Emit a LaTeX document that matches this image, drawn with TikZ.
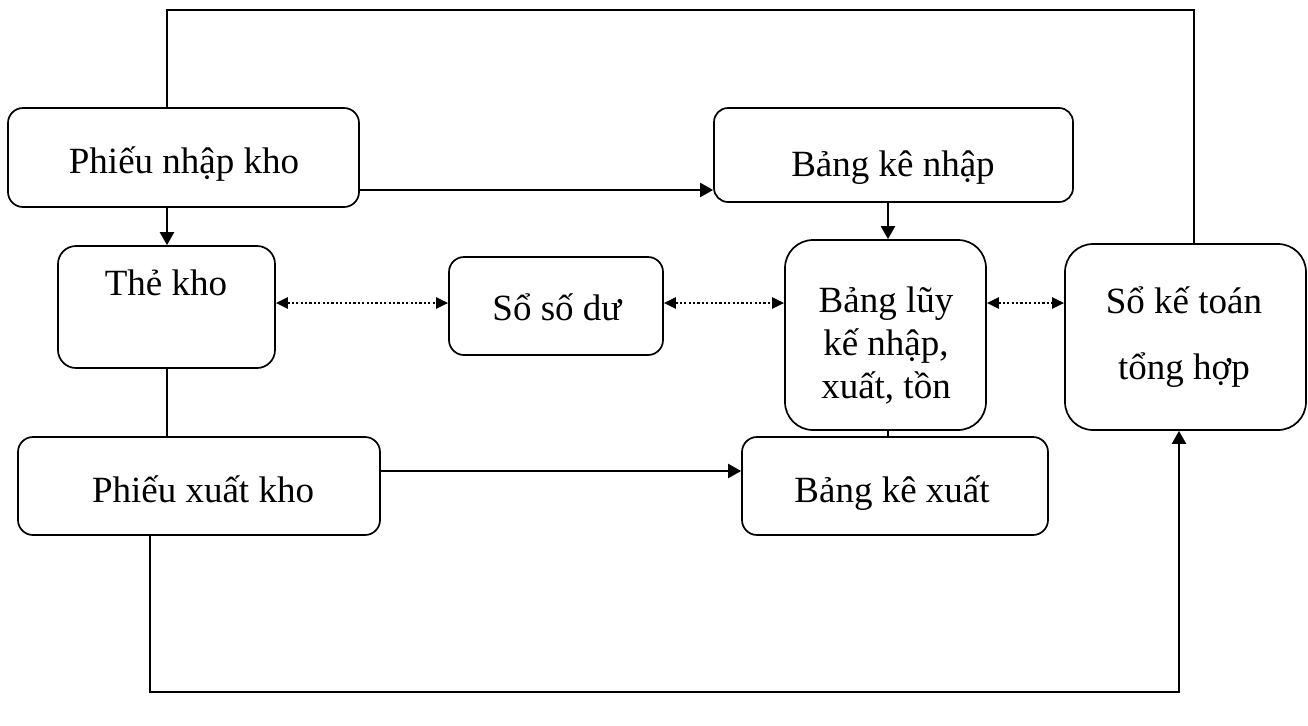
\documentclass[tikz,border=0pt]{standalone}
\usepackage{fontspec}
\setmainfont{Liberation Serif}
\usetikzlibrary{fit,arrows.meta}

\begin{document}
\begin{tikzpicture}[
  x=0.5pt, y=-0.5pt,
  box/.style={draw, line width=0.85pt, inner sep=0pt},
  lbl/.style={font=\fontsize{18.5}{21.5}\selectfont, inner sep=0pt, align=center},
  conn/.style={line width=1.1pt},
  arr/.style={conn, -{Triangle[length=6.5pt,width=7pt]}},
  dotarr/.style={line width=1.1pt, dash pattern=on 1.1pt off 1.1pt,
                 {Triangle[length=6pt,width=5.5pt]}-{Triangle[length=6pt,width=5.5pt]}}
]
\useasboundingbox (0,0) rectangle (1308,725);

% boxes
\node[box, rounded corners=7.5pt, fit={(8,108) (359,207)}]    (pnk) {};
\node[box, rounded corners=7pt,   fit={(714,108) (1073,202)}] (bkn) {};
\node[box, rounded corners=9pt,   fit={(58,246) (275,368)}]   (tk)  {};
\node[box, rounded corners=7.5pt, fit={(449,257) (663,355)}]  (ssd) {};
\node[box, rounded corners=14pt,  fit={(785,240) (986,430)}]  (blk) {};
\node[box, rounded corners=14pt,  fit={(1065,244) (1306,430)}](skt) {};
\node[box, rounded corners=7.5pt, fit={(18,437) (380,535)}]   (pxk) {};
\node[box, rounded corners=7.5pt, fit={(742,437) (1048,535)}] (bkx) {};

% labels (multi-line labels sit on the baseline of their last line)
\node[lbl, anchor=base] (pnk-t) at (184,173) {Phiếu nhập kho};
\node[lbl, anchor=base] (bkn-t) at (893,176) {Bảng kê nhập};
\node[lbl, anchor=base] (tk-t)  at (166,295) {Thẻ kho};
\node[lbl, anchor=base] (ssd-t) at (557,320) {Sổ số dư};
\node[lbl, anchor=base] (blk-t) at (886,398) {Bảng lũy\\kế nhập,\\xuất, tồn};
\node[lbl, anchor=base] (skt-t) at (1184,379) {Sổ kế toán\\[11.5pt]tổng hợp};
\node[lbl, anchor=base] (pxk-t) at (203,502) {Phiếu xuất kho};
\node[lbl, anchor=base] (bkx-t) at (892,502) {Bảng kê xuất};

% routing points
\coordinate (topL) at (167,10);
\coordinate (topR) at (1194,10);
\coordinate (botL) at (150,692);
\coordinate (botR) at (1179,692);
\coordinate (rowA) at (0,190);
\coordinate (rowB) at (0,303);
\coordinate (rowC) at (0,471);
\coordinate (colB) at (888,0);

% connectors
\draw[conn] (topL |- pnk.north) -- (topL) -- (topR) -- (topR |- skt.north);
\draw[arr] (pnk.east |- rowA) -- (bkn.west |- rowA);
\draw[arr] (topL |- pnk.south) -- (topL |- tk.north);
\draw[arr] (colB |- bkn.south) -- (colB |- blk.north);
\draw[dotarr] (tk.east |- rowB) -- (ssd.west |- rowB);
\draw[dotarr] (ssd.east |- rowB) -- (blk.west |- rowB);
\draw[dotarr] (blk.east |- rowB) -- (skt.west |- rowB);
\draw[conn] (topL |- tk.south) -- (topL |- pxk.north);
\draw[conn] (colB |- blk.south) -- (colB |- bkx.north);
\draw[arr] (pxk.east |- rowC) -- (bkx.west |- rowC);
\draw[arr] (botL |- pxk.south) -- (botL) -- (botR) -- (botR |- skt.south);
\end{tikzpicture}
\end{document}
